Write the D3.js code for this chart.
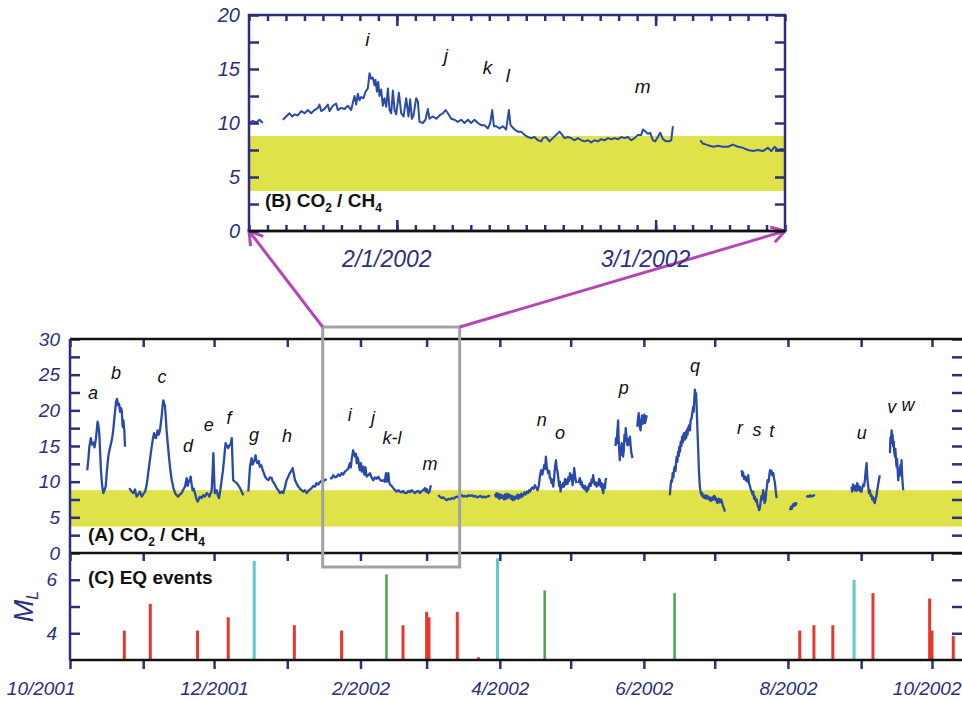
<!DOCTYPE html>
<html lang="en">
<head>
<meta charset="UTF-8">
<title>CO2 / CH4 ratio and EQ events</title>
<script src="https://cdn.jsdelivr.net/npm/d3@7"></script>
<style>
  body{margin:0;background:#fff;}
  svg{display:block;font-family:"Liberation Sans",Arial,sans-serif;}
</style>
</head>
<body>
<script>
// ---- data: [days since 2001-10-01, CO2/CH4] ----
var startDay = new Date(2001, 9, 1);

var segA = [[7.3,11.6],[7.8,13.2],[8.2,14.9],[8.8,16.1],[9.3,15.2],[9.9,15.5],[10.4,14.8],[11.0,16.1],[11.4,17.5],[11.7,18.4],[12.0,17.9],[12.4,16.8],[12.8,13.8],[13.1,11.6],[13.6,9.5],[14.1,8.4],[14.6,8.8],[15.1,9.3],[15.6,11.4],[16.2,13.5],[16.7,14.4],[17.2,15.1],[17.8,16.0],[18.3,17.2],[18.9,19.3],[19.5,21.2],[19.9,21.6],[20.4,20.7],[20.8,20.9],[21.2,19.8],[21.6,20.3],[21.9,20.0],[22.3,17.7],[22.6,18.6],[23.0,17.2],[23.3,14.9]];
var segB = [[25.1,9.1],[25.9,8.7],[26.8,8.4],[27.5,8.9],[28.2,7.9],[28.9,8.2],[29.6,8.6],[30.4,7.9],[31.1,8.3],[31.8,8.6],[32.5,9.6],[33.1,11.2],[33.9,13.2],[34.6,14.9],[35.1,16.0],[35.6,16.8],[36.0,16.2],[36.4,16.1],[36.8,16.7],[37.1,17.2],[37.6,16.6],[38.1,17.2],[38.5,18.3],[38.8,19.1],[39.2,20.6],[39.5,21.4],[39.9,20.9],[40.2,20.7],[40.5,19.3],[40.9,17.2],[41.4,15.3],[41.9,13.5],[42.5,11.6],[43.1,10.2],[43.8,9.1],[44.5,8.4],[45.1,8.1],[45.8,7.9],[46.5,8.2],[47.3,8.4],[48.0,8.9],[48.7,9.3],[49.1,10.0],[49.4,10.5],[49.8,9.4],[50.1,9.8],[50.6,10.2],[51.1,10.7],[51.5,9.6],[51.9,8.8],[52.4,9.0],[52.9,8.4],[53.5,7.6],[54.1,7.2],[54.6,7.6],[55.0,7.9],[55.7,7.7],[56.4,8.1],[57.1,7.9],[57.9,8.4],[58.5,8.2],[59.0,7.9],[59.5,8.3],[60.0,8.8],[60.4,11.5],[60.7,14.0],[61.0,11.0],[61.3,8.4],[61.7,8.6],[62.1,8.8],[62.6,8.1],[63.1,7.7],[63.7,8.9],[64.2,10.2],[64.7,11.4],[65.2,13.0],[65.6,14.5],[65.9,15.4],[66.4,15.0],[67.0,14.7],[67.5,15.1],[68.0,15.2],[68.5,16.1],[68.8,13.0],[69.1,10.2],[69.8,10.0],[70.6,9.8],[71.3,9.5],[72.0,9.1],[72.7,8.6],[73.4,8.1]];
var segC = [[75.5,8.6],[75.9,10.5],[76.2,12.1],[76.6,12.8],[76.9,13.3],[77.3,12.4],[77.6,12.6],[78.1,13.0],[78.6,13.7],[78.9,13.0],[79.3,12.6],[79.9,12.9],[80.4,12.1],[81.0,12.3],[81.6,11.6],[82.1,11.2],[82.6,10.7],[83.3,10.4],[84.0,10.2],[84.7,10.6],[85.4,10.5],[85.9,10.0],[86.4,9.8],[86.9,9.5],[87.5,9.1],[88.2,8.8],[88.9,8.4],[89.6,8.6],[90.3,8.4],[91.0,9.2],[91.7,10.2],[92.4,10.7],[93.1,11.2],[93.7,11.5],[94.3,11.9],[94.8,11.0],[95.3,10.2],[96.0,9.7],[96.7,9.3],[97.4,9.0],[98.1,8.8],[98.8,8.6],[99.5,8.8],[100.2,8.4],[100.9,8.7],[101.6,8.9],[102.3,9.1],[103.0,9.4],[103.7,9.3],[104.4,9.8],[105.1,9.6],[105.8,9.9],[106.5,10.1],[107.2,10.0],[108.0,10.3],[108.7,10.2]];
var segD = [[110.1,10.4],[110.8,10.5],[111.5,10.9],[112.2,10.6],[112.9,10.7],[113.6,11.0],[114.3,10.8],[115.0,11.2],[115.7,11.0],[116.4,11.4],[117.1,11.6],[117.8,11.8],[118.5,12.6],[118.9,12.0],[119.3,13.2],[119.9,14.4],[120.3,14.0],[120.7,13.5],[121.1,13.9],[121.4,12.6],[121.8,13.4],[122.1,13.0],[122.5,12.0],[122.8,11.6],[123.2,12.6],[123.6,11.4],[124.2,12.1],[124.6,11.0],[125.1,12.0],[125.6,10.7],[126.3,10.9],[127.0,11.2],[127.7,10.6],[128.4,10.2],[129.1,10.6],[129.8,10.4],[130.5,10.7],[131.2,10.3],[131.9,10.1],[132.6,10.2],[133.3,10.0],[133.8,11.2],[134.1,10.0],[134.8,11.2],[135.1,10.0],[135.5,9.6],[136.2,9.4],[136.9,9.1],[137.6,8.8],[138.3,8.6],[139.0,8.8],[139.7,8.6],[140.4,8.5],[141.1,8.7],[141.8,8.4],[142.5,8.4],[143.2,8.7],[143.9,8.5],[144.6,8.8],[145.3,8.6],[146.0,8.4],[146.7,8.6],[147.4,8.7],[148.2,8.4],[148.9,8.7],[149.6,8.8],[150.3,9.1],[150.7,8.6],[151.0,9.0],[151.7,8.4],[152.2,8.6],[152.8,9.5]];
var segE = [[155.9,8.1],[156.6,7.9],[157.4,7.7],[158.1,7.8],[158.8,7.6],[159.5,7.4],[160.2,7.6],[160.9,7.5],[161.6,7.7],[162.4,7.6],[163.1,7.8],[163.8,7.9],[164.5,7.8],[165.2,8.0],[165.9,8.1],[166.6,7.9],[167.4,8.0],[168.1,7.9],[168.8,8.1],[169.5,8.0],[170.2,8.1],[170.9,7.9],[171.6,8.0],[172.4,7.8],[173.1,7.9],[173.8,8.0],[174.5,7.8],[175.2,7.9],[175.9,7.8],[176.6,7.9],[177.4,8.0],[177.8,7.9]];
var segF = [[179.9,8.3],[180.3,7.9],[180.6,8.4],[181.0,7.8],[181.4,8.3],[181.8,7.6],[182.2,8.2],[182.6,7.7],[183.0,8.1],[183.4,7.9],[183.8,7.5],[184.2,8.2],[184.6,7.6],[185.0,8.3],[185.4,7.7],[185.8,8.2],[186.3,8.1],[186.7,7.6],[187.1,8.0],[187.5,7.4],[187.9,7.9],[188.3,7.5],[188.7,7.9],[189.1,7.7],[189.5,8.2],[189.9,7.6],[190.3,8.1],[190.7,7.8],[191.1,8.3],[191.5,7.9],[191.9,8.1],[192.4,8.5],[192.9,8.2],[193.4,8.6],[193.9,8.4],[194.4,8.8],[194.8,8.6],[195.3,9.0],[195.8,9.2],[196.3,9.0],[196.9,9.5],[197.5,9.1],[198.0,8.8],[198.5,9.4],[199.0,10.8],[199.5,11.6],[200.0,11.0],[200.4,11.6],[200.9,12.4],[201.2,11.8],[201.5,13.5],[201.9,12.0],[202.2,11.6],[202.5,11.2],[202.9,11.5],[203.2,10.5],[203.5,10.5],[203.9,9.8],[204.2,10.3],[204.6,9.3],[205.0,10.5],[205.4,12.2],[205.8,13.0],[206.1,11.8],[206.4,11.5],[206.7,10.7],[207.1,9.4],[207.4,10.0],[207.7,8.6],[208.1,9.5],[208.4,9.2],[208.8,9.8],[209.2,9.3],[209.6,10.4],[209.9,9.6],[210.3,10.2],[210.7,9.7],[211.0,10.6],[211.4,10.1],[211.7,11.2],[212.1,10.4],[212.4,10.9],[212.8,9.5],[213.1,10.4],[213.5,11.9],[213.9,10.7],[214.2,10.1],[214.5,9.8]];
var segG = [[215.2,9.8],[215.6,10.2],[215.9,10.5],[216.3,9.6],[216.6,10.0],[217.0,9.2],[217.3,9.5],[217.7,9.0],[218.1,9.4],[218.4,8.8],[218.8,8.6],[219.1,9.2],[219.5,8.9],[219.8,9.6],[220.2,9.8],[220.5,9.4],[220.9,10.3],[221.2,9.9],[221.5,10.9],[221.9,10.0],[222.2,9.6],[222.6,9.9],[223.0,9.3],[223.3,9.8],[223.7,9.5],[224.0,10.4],[224.4,10.2],[224.7,9.3],[225.1,9.8],[225.4,8.9],[225.8,8.4],[226.1,9.6],[226.5,9.1],[226.8,10.3],[227.2,10.5]];
var segH = [[231.0,15.0],[231.2,16.1],[231.5,15.4],[231.8,17.2],[232.1,18.6],[232.3,16.0],[232.5,14.8],[232.8,13.0],[233.0,14.2],[233.3,13.8],[233.6,15.4],[233.9,14.6],[234.2,13.5],[234.5,14.4],[234.8,16.6],[235.1,15.8],[235.3,17.5],[235.6,16.4],[235.8,15.5],[236.1,15.1],[236.4,16.0],[236.7,15.2],[237.1,16.3],[237.4,15.0],[237.7,14.0],[238.0,13.6],[238.1,13.3]];
var segI = [[240.2,17.7],[240.5,18.8],[240.8,19.6],[241.0,18.4],[241.3,17.6],[241.6,17.2],[241.9,18.5],[242.2,19.3],[242.5,18.1],[242.9,18.4],[243.2,19.4],[243.5,18.2],[243.9,18.8],[244.2,19.3]];
var segJ = [[254.0,8.1],[254.3,9.4],[254.6,10.2],[254.9,10.0],[255.2,11.2],[255.5,10.6],[255.8,11.8],[256.1,12.1],[256.4,11.5],[256.7,13.0],[256.9,13.5],[257.2,12.8],[257.5,14.2],[257.8,13.6],[258.0,14.9],[258.3,14.2],[258.6,15.6],[258.9,15.0],[259.2,16.3],[259.5,15.5],[259.8,16.6],[260.0,16.8],[260.3,15.9],[260.6,16.9],[260.9,16.1],[261.2,17.3],[261.5,16.6],[261.8,17.6],[262.2,17.9],[262.5,17.2],[262.8,18.6],[263.2,18.9],[263.5,19.6],[263.9,20.5],[264.1,19.8],[264.4,21.8],[264.6,22.9],[264.9,22.0],[265.1,22.4],[265.3,21.0],[265.6,18.0],[266.0,14.4],[266.3,11.6],[266.7,9.3],[267.0,8.6],[267.4,8.1],[267.7,8.4],[268.1,7.8],[268.4,8.0],[268.8,7.7],[269.1,8.1],[269.5,7.6],[269.8,8.0],[270.2,7.9],[270.6,7.5],[270.9,7.8],[271.3,7.3],[271.7,7.4],[272.0,7.8],[272.4,7.5],[272.7,8.0],[273.1,7.9],[273.4,7.4],[273.8,7.6],[274.1,7.0],[274.5,7.2],[274.8,7.6],[275.2,7.1],[275.5,7.5],[275.9,7.4],[276.3,6.8],[276.6,6.5],[277.0,6.2],[277.3,5.8]];
var segK = [[284.4,11.6],[284.7,10.8],[285.0,11.3],[285.4,10.4],[285.8,10.7],[286.1,10.2],[286.5,10.6],[286.8,10.0],[287.2,10.9],[287.5,9.8],[287.9,9.4],[288.2,9.0],[288.6,8.6],[289.0,8.2],[289.3,8.6],[289.7,7.6],[290.0,7.9],[290.4,7.2],[290.8,7.5],[291.1,6.7],[291.5,6.4],[291.8,6.0],[292.1,6.3],[292.5,7.3],[292.8,8.0],[293.1,7.5],[293.5,8.8],[293.8,8.2],[294.1,7.0],[294.5,7.4],[294.8,8.6],[295.1,9.3],[295.4,10.2],[295.8,10.0],[296.1,10.8],[296.4,11.6],[296.8,11.1],[297.1,11.5],[297.4,10.9],[297.8,11.2],[298.1,10.5],[298.5,9.8],[298.8,8.8],[299.2,7.7]];
var segL = [[304.9,6.0],[305.3,6.5],[305.7,6.2],[306.1,6.8],[306.5,6.6],[306.9,7.0],[307.3,6.7],[307.7,7.1]];
var segM = [[311.9,7.8],[312.4,8.0],[312.9,7.9],[313.4,8.1],[313.9,7.9],[314.4,8.0],[314.9,8.1],[315.4,8.0]];
var segN = [[330.9,9.3],[331.2,8.6],[331.6,9.6],[331.9,8.9],[332.3,8.8],[332.6,9.4],[333.0,8.7],[333.3,9.8],[333.7,9.5],[334.0,8.8],[334.4,9.3],[334.8,8.6],[335.2,8.6],[335.5,9.2],[335.9,9.6],[336.2,9.4],[336.6,10.2],[336.9,11.4],[337.3,12.6],[337.6,10.6],[338.0,9.3],[338.3,8.4],[338.7,8.8],[339.0,8.0],[339.4,8.1],[339.7,7.5],[340.1,7.8],[340.4,7.2],[340.8,7.0],[341.1,7.6],[341.5,8.0],[341.8,8.8],[342.2,9.6],[342.5,10.2],[342.9,10.9]];
var segO = [[347.2,14.0],[347.4,16.2],[347.6,15.4],[347.9,17.2],[348.1,16.0],[348.3,16.6],[348.6,14.9],[348.8,15.6],[349.0,14.2],[349.3,13.5],[349.5,14.6],[349.8,12.8],[350.0,12.1],[350.2,13.2],[350.5,11.4],[350.7,10.2],[350.9,11.8],[351.2,10.8],[351.4,11.6],[351.7,12.4],[351.9,11.0],[352.1,13.0],[352.3,11.2],[352.6,9.6],[352.8,8.8]];
var mainSegments = [segA, segB, segC, segD, segE, segF, segG, segH, segI, segJ, segK, segL, segM, segN, segO];

// ---- inset (B): [days since 2002-01-16, CO2/CH4] ----
var zoomStart = new Date(2002, 0, 16);
var zoomEnd = new Date(2002, 2, 15);
var zoomA = [[0.0,10.0],[0.41,10.2],[0.78,10.05],[1.14,10.3],[1.49,10.0]];
var zoomB = [[3.66,10.3],[4.02,10.6],[4.38,10.9],[4.67,10.6],[4.92,10.8],[5.28,10.7],[5.65,11.1],[6.01,10.9],[6.37,11.2],[6.73,10.9],[7.09,11.2],[7.45,11.4],[7.63,11.7],[7.81,11.1],[8.17,11.3],[8.53,11.7],[8.71,11.1],[9.07,11.6],[9.43,11.8],[9.61,11.2],[9.97,11.4],[10.34,11.3],[10.7,11.6],[11.06,11.2],[11.24,11.9],[11.42,12.5],[11.6,11.7],[11.78,12.7],[11.96,12.1],[12.14,12.4],[12.39,12.3],[12.61,12.9],[12.86,13.2],[13.04,14.6],[13.22,14.1],[13.4,14.2],[13.58,13.5],[13.69,14.0],[13.84,12.9],[13.98,13.8],[14.12,12.5],[14.3,13.1],[14.48,11.6],[14.66,12.3],[14.85,11.5],[15.03,13.2],[15.21,11.2],[15.39,10.9],[15.57,13.0],[15.75,11.2],[15.93,10.8],[16.22,12.8],[16.47,10.9],[16.72,10.6],[17.01,12.3],[17.26,10.6],[17.44,12.2],[17.62,10.4],[17.8,10.7],[18.09,12.3],[18.27,12.0],[18.45,10.1],[18.81,10.0],[19.1,10.3],[19.35,11.3],[19.53,10.4],[19.89,10.6],[20.26,10.4],[20.62,10.7],[20.98,10.9],[21.27,11.2],[21.52,10.9],[21.88,10.4],[22.24,10.3],[22.6,10.1],[22.96,10.3],[23.32,10.0],[23.68,10.3],[24.04,10.0],[24.4,10.3],[24.76,10.0],[25.12,9.8],[25.48,9.8],[25.85,9.5],[26.1,10.0],[26.32,11.2],[26.5,9.7],[26.75,9.7],[27.11,9.5],[27.47,9.7],[27.83,9.4],[28.12,11.2],[28.3,9.8],[28.73,9.4],[29.09,9.2],[29.45,9.2],[29.82,8.9],[30.18,8.7],[30.54,8.6],[30.9,8.7],[31.26,8.4],[31.62,8.3],[31.8,8.6],[32.16,8.7],[32.52,8.3],[32.88,8.6],[33.24,8.9],[33.6,9.2],[33.89,8.9],[34.14,8.6],[34.51,8.7],[34.87,8.6],[35.23,8.4],[35.59,8.6],[35.95,8.4],[36.31,8.3],[36.67,8.4],[37.03,8.2],[37.39,8.4],[37.75,8.3],[38.11,8.5],[38.47,8.4],[38.84,8.6],[39.2,8.5],[39.56,8.6],[39.92,8.5],[40.28,8.7],[40.64,8.6],[41.0,8.7],[41.36,8.4],[41.72,8.6],[42.08,8.9],[42.44,8.9],[42.62,9.4],[42.91,9.2],[43.16,9.0],[43.41,9.1],[43.7,8.4],[43.96,8.3],[44.24,8.7],[44.5,9.1],[44.79,8.5],[45.15,8.3],[45.44,8.3],[45.69,8.4],[45.87,9.7]];
var zoomC = [[48.83,8.4],[49.12,8.1],[49.48,8.0],[49.84,7.9],[50.27,7.8],[50.74,7.9],[51.28,7.8],[51.82,7.8],[52.36,8.0],[52.91,7.8],[53.45,7.7],[53.99,7.5],[54.53,7.4],[55.07,7.5],[55.61,7.4],[56.15,7.7],[56.51,7.4],[56.87,7.8],[57.23,7.5],[57.59,7.6],[58.13,7.5],[58.4,7.6]];
var zoomSegments = [zoomA, zoomB, zoomC];

// background range (yellow band)
var bandRange = [3.7, 8.8];

// ---- (C) earthquakes ----
var eqDates = ["2001-10-24","2001-11-04","2001-11-24","2001-12-07","2001-12-18","2002-01-04","2002-01-24","2002-02-12","2002-02-19","2002-03-01","2002-03-02","2002-03-14","2002-03-23","2002-03-31","2002-04-20","2002-06-14","2002-08-06","2002-08-12","2002-08-20","2002-08-29","2002-09-06","2002-09-30","2002-10-01","2002-10-10"];
var eqML    = [4.1,5.1,4.1,4.6,6.7,4.3,4.1,6.2,4.3,4.8,4.6,4.8,3.1,6.8,5.6,5.5,4.1,4.3,4.3,6.0,5.5,5.3,4.1,3.9];
var eqGroup = ["I","I","I","I","II","I","I","III","I","I","I","I","I","II","III","III","I","I","I","II","I","I","I","I"];

// ---- tick values ----
var ratioTicks = [0,2.5,5,7.5,10,12.5,15,17.5,20,22.5,25,27.5,30];
var mlTicks = [4,5,6];
var zoomRatioTicks = [0,2.5,5,7.5,10,12.5,15,17.5,20];

// ---- peak letters ----
var mainLetters   = ['a','b','c','d','e','f','g','h','i','j','k-l','m','n','o','p','q','r','s','t','u','v','w'];
var mainLetterDay = [9.7,19.5,39.0,50.0,58.8,67.3,77.9,91.9,118.5,128.3,136.3,152.4,199.8,207.5,234.5,264.6,283.7,290.9,297.2,335.3,348.0,354.8];
var mainLetterVal = [22.4,25.2,24.7,14.9,17.9,18.9,16.5,16.3,19.3,18.9,16.1,12.5,18.6,16.8,23.1,26.2,17.5,17.2,17.0,16.8,20.5,20.7];
var zoomLetters   = ['i','j','k','l','m'];
var zoomLetterDay = [12.8,21.3,25.8,28.0,42.6];
var zoomLetterVal = [17.7,16.2,15.1,14.4,13.3];

window.addEventListener('load', function(){

  var navy = '#2d2f7e';
  var blue = '#2a4aaa';
  var yellow = '#e0e24a';
  var magenta = '#b447b4';
  var eqColor = d3.scaleOrdinal().domain(['I','II','III']).range(['#e8372c','#5fc8cc','#3ea84b']);

  function dayDate(base, d){ return new Date(base.getTime() + d * 864e5); }
  var parse = d3.timeParse('%Y-%m-%d');

  var svg = d3.select('body').append('svg')
    .attr('width', 962)
    .attr('height', 701);

  // scales
  var xMain = d3.scaleTime().domain([startDay, new Date(2002, 9, 1)]).range([70, 932]);
  var mainRight = 962;
  var yA = d3.scaleLinear().domain([0, 30]).range([553, 339]);
  var yC = d3.scaleLinear().domain([3, 7]).range([660, 553]);
  var xZ = d3.scaleTime().domain([zoomStart, zoomEnd]).range([249, 785]);
  var yZ = d3.scaleLinear().domain([0, 20]).range([231, 15]);

  var defs = svg.append('defs');
  defs.append('clipPath').attr('id', 'clipA').append('rect')
    .attr('x', 70).attr('y', yA(30)).attr('width', mainRight - 70).attr('height', yA(0) - yA(30));
  defs.append('clipPath').attr('id', 'clipZ').append('rect')
    .attr('x', xZ.range()[0]).attr('y', yZ(20)).attr('width', xZ.range()[1] - xZ.range()[0]).attr('height', yZ(0) - yZ(20));
  defs.append('marker')
    .attr('id', 'head').attr('markerUnits', 'userSpaceOnUse')
    .attr('markerWidth', 30).attr('markerHeight', 30)
    .attr('refX', 15).attr('refY', 15).attr('orient', 'auto')
    .append('path')
    .attr('d', 'M2,7 L15,15 L2,23')
    .attr('fill', 'none').attr('stroke', magenta).attr('stroke-width', 3);

  function styleAxis(g, size){
    g.attr('font-size', null).attr('font-family', null);
    g.select('.domain').remove();
    g.selectAll('.tick line').attr('stroke', navy).attr('stroke-width', 2.5);
    g.selectAll('.tick text')
      .attr('fill', navy)
      .style('font-style', 'italic')
      .style('font-size', size + 'px');
  }

  // ================= main panel (A) =================
  svg.append('rect')
    .attr('x', 70).attr('y', yA(bandRange[1]))
    .attr('width', mainRight - 70).attr('height', yA(bandRange[0]) - yA(bandRange[1]))
    .attr('fill', yellow);

  var lineA = d3.line()
    .x(function(d){ return xMain(dayDate(startDay, d[0])); })
    .y(function(d){ return yA(d[1]); });

  svg.append('g').attr('clip-path', 'url(#clipA)')
    .selectAll('path')
    .data(mainSegments)
    .enter()
    .append('path')
    .attr('d', lineA)
    .attr('fill', 'none')
    .attr('stroke', blue)
    .attr('stroke-width', 2.3)
    .attr('stroke-linejoin', 'round');

  // ================= EQ panel (C) =================
  svg.append('g').selectAll('line')
    .data(eqDates)
    .enter()
    .append('line')
    .attr('x1', function(d){ return xMain(parse(d)); })
    .attr('x2', function(d){ return xMain(parse(d)); })
    .attr('y1', yC(3))
    .attr('y2', function(d, i){ return yC(eqML[i]); })
    .attr('stroke', function(d, i){ return eqColor(eqGroup[i]); })
    .attr('stroke-width', function(d, i){ return eqGroup[i] === 'III' ? 2.5 : 3; });

  // ================= axes of main figure =================
  var monthTicks = d3.timeMonth.range(startDay, new Date(2002, 9, 2));

  var topAx = svg.append('g').attr('transform', 'translate(0,' + yA(30) + ')')
    .call(d3.axisBottom(xMain).tickValues(monthTicks).tickSize(8).tickFormat(''));
  styleAxis(topAx, 19);
  var midAx = svg.append('g').attr('transform', 'translate(0,' + yA(0) + ')')
    .call(d3.axisBottom(xMain).tickValues(monthTicks).tickSize(8).tickFormat(''));
  styleAxis(midAx, 19);
  var botAx = svg.append('g').attr('transform', 'translate(0,' + yC(3) + ')')
    .call(d3.axisBottom(xMain).tickValues(monthTicks).tickSize(9).tickPadding(13)
      .tickFormat(function(d){ return d.getMonth() % 2 === 1 ? (d.getMonth() + 1) + '/' + d.getFullYear() : ''; }));
  styleAxis(botAx, 19);
  var nTicks = monthTicks.length;
  botAx.selectAll('.tick text')
    .filter(function(d, i){ return i === 0; })
    .attr('text-anchor', 'end').attr('dx', 5);
  botAx.selectAll('.tick text')
    .filter(function(d, i){ return i === nTicks - 1; })
    .attr('text-anchor', 'end').attr('dx', mainRight - 1 - xMain(monthTicks[nTicks - 1]));

  var leftA = svg.append('g').attr('transform', 'translate(70,0)')
    .call(d3.axisLeft(yA).tickValues(ratioTicks).tickSizeInner(-10).tickSizeOuter(0).tickPadding(10)
      .tickFormat(function(d){ return d % 5 === 0 ? d : ''; }));
  styleAxis(leftA, 19);
  var rightA = svg.append('g').attr('transform', 'translate(' + mainRight + ',0)')
    .call(d3.axisRight(yA).tickValues(ratioTicks).tickSizeInner(-10).tickSizeOuter(0).tickFormat(''));
  styleAxis(rightA, 19);
  var leftC = svg.append('g').attr('transform', 'translate(70,0)')
    .call(d3.axisLeft(yC).tickValues(mlTicks).tickSizeInner(-10).tickSizeOuter(0).tickPadding(13)
      .tickFormat(function(d){ return d % 2 === 0 ? d : ''; }));
  styleAxis(leftC, 19);
  var rightC = svg.append('g').attr('transform', 'translate(' + mainRight + ',0)')
    .call(d3.axisRight(yC).tickValues(mlTicks).tickSizeInner(-10).tickSizeOuter(0).tickFormat(''));
  styleAxis(rightC, 19);

  // frame lines
  [yA(30), yA(0), yC(3)].forEach(function(y){
    svg.append('line')
      .attr('x1', 70).attr('x2', mainRight).attr('y1', y).attr('y2', y)
      .attr('stroke', '#111').attr('stroke-width', 2.5);
  });
  svg.append('line')
    .attr('x1', 70).attr('x2', 70).attr('y1', yA(30)).attr('y2', yC(3))
    .attr('stroke', navy).attr('stroke-width', 2.5);

  // peak letters
  svg.append('g').selectAll('text')
    .data(mainLetters)
    .enter()
    .append('text')
    .attr('x', function(d, i){ return xMain(dayDate(startDay, mainLetterDay[i])); })
    .attr('y', function(d, i){ return yA(mainLetterVal[i]); })
    .attr('dy', '0.32em')
    .attr('text-anchor', 'middle')
    .style('font-style', 'italic')
    .style('font-size', '18px')
    .attr('fill', '#111')
    .text(function(d){ return d; });

  function chemLabel(x, y, tag){
    var t = svg.append('text')
      .attr('x', x).attr('y', y)
      .attr('fill', '#111')
      .style('font-weight', 'bold')
      .style('font-size', '19px');
    t.append('tspan').text(tag + ' CO');
    t.append('tspan').attr('dy', 5).style('font-size', '12px').text('2');
    t.append('tspan').attr('dy', -5).text(' / CH');
    t.append('tspan').attr('dy', 5).style('font-size', '12px').text('4');
  }
  chemLabel(88, 541, '(A)');

  svg.append('text')
    .attr('x', 88).attr('y', 584)
    .attr('fill', '#111')
    .style('font-weight', 'bold')
    .style('font-size', '19px')
    .text('(C) EQ events');

  var ml = svg.append('text')
    .attr('transform', 'translate(33,' + yC(5) + ') rotate(-90)')
    .attr('text-anchor', 'middle')
    .attr('fill', navy)
    .style('font-style', 'italic')
    .style('font-size', '27px');
  ml.append('tspan').text('M');
  ml.append('tspan').attr('dy', 5).style('font-size', '16px').text('L');

  // ================= zoom box and arrows =================
  var bx0 = xMain(zoomStart), bx1 = xMain(zoomEnd);
  svg.append('rect')
    .attr('x', bx0).attr('y', 327)
    .attr('width', bx1 - bx0).attr('height', 567 - 327)
    .attr('fill', 'none')
    .attr('stroke', '#a2a2a2')
    .attr('stroke-width', 3);

  [[bx0, xZ.range()[0]], [bx1, xZ.range()[1]]].forEach(function(p){
    svg.append('line')
      .attr('x1', p[0]).attr('y1', 327)
      .attr('x2', p[1]).attr('y2', yZ(0))
      .attr('stroke', magenta)
      .attr('stroke-width', 3)
      .attr('marker-end', 'url(#head)');
  });

  // ================= inset (B) =================
  svg.append('rect')
    .attr('x', xZ.range()[0]).attr('y', yZ(bandRange[1]))
    .attr('width', xZ.range()[1] - xZ.range()[0]).attr('height', yZ(bandRange[0]) - yZ(bandRange[1]))
    .attr('fill', yellow);

  var lineZ = d3.line()
    .x(function(d){ return xZ(dayDate(zoomStart, d[0])); })
    .y(function(d){ return yZ(d[1]); });

  svg.append('g').attr('clip-path', 'url(#clipZ)')
    .selectAll('path')
    .data(zoomSegments)
    .enter()
    .append('path')
    .attr('d', lineZ)
    .attr('fill', 'none')
    .attr('stroke', blue)
    .attr('stroke-width', 2)
    .attr('stroke-linejoin', 'round');

  var dayTicks = d3.range(0, 59, 2).map(function(d){ return dayDate(zoomStart, d); });
  var monthMarks = [new Date(2002, 1, 1), new Date(2002, 2, 1)];

  var zBot = svg.append('g').attr('transform', 'translate(0,' + yZ(0) + ')')
    .call(d3.axisTop(xZ).tickValues(dayTicks).tickSize(6).tickFormat(''));
  styleAxis(zBot, 20);
  var zBot2 = svg.append('g').attr('transform', 'translate(0,' + yZ(0) + ')')
    .call(d3.axisTop(xZ).tickValues(monthMarks).tickSize(11).tickFormat(''));
  styleAxis(zBot2, 20);
  var zTop = svg.append('g').attr('transform', 'translate(0,' + yZ(20) + ')')
    .call(d3.axisBottom(xZ).tickValues(dayTicks).tickSize(6).tickFormat(''));
  styleAxis(zTop, 20);
  var zTop2 = svg.append('g').attr('transform', 'translate(0,' + yZ(20) + ')')
    .call(d3.axisBottom(xZ).tickValues(monthMarks).tickSize(11).tickFormat(''));
  styleAxis(zTop2, 20);
  var zLeft = svg.append('g').attr('transform', 'translate(' + xZ.range()[0] + ',0)')
    .call(d3.axisLeft(yZ).tickValues(zoomRatioTicks).tickSizeInner(-10).tickSizeOuter(0).tickPadding(9)
      .tickFormat(function(d){ return d % 5 === 0 ? d : ''; }));
  styleAxis(zLeft, 20);
  var zRight = svg.append('g').attr('transform', 'translate(' + xZ.range()[1] + ',0)')
    .call(d3.axisRight(yZ).tickValues(zoomRatioTicks).tickSizeInner(-10).tickSizeOuter(0).tickFormat(''));
  styleAxis(zRight, 20);

  svg.append('rect')
    .attr('x', xZ.range()[0]).attr('y', yZ(20))
    .attr('width', xZ.range()[1] - xZ.range()[0]).attr('height', yZ(0) - yZ(20))
    .attr('fill', 'none')
    .attr('stroke', navy)
    .attr('stroke-width', 2.5);
  svg.append('line')
    .attr('x1', xZ.range()[0]).attr('x2', xZ.range()[1]).attr('y1', yZ(0)).attr('y2', yZ(0))
    .attr('stroke', '#111').attr('stroke-width', 2.5);

  var fmtZ = d3.timeFormat('%-m/%-d/%Y');
  svg.append('g').selectAll('text')
    .data(monthMarks)
    .enter()
    .append('text')
    .attr('x', function(d){ return xZ(d) - 10; })
    .attr('y', 267)
    .attr('text-anchor', 'middle')
    .attr('fill', navy)
    .style('font-style', 'italic')
    .style('font-size', '23px')
    .text(function(d){ return fmtZ(d); });

  svg.append('g').selectAll('text')
    .data(zoomLetters)
    .enter()
    .append('text')
    .attr('x', function(d, i){ return xZ(dayDate(zoomStart, zoomLetterDay[i])); })
    .attr('y', function(d, i){ return yZ(zoomLetterVal[i]); })
    .attr('dy', '0.32em')
    .attr('text-anchor', 'middle')
    .style('font-style', 'italic')
    .style('font-size', '19px')
    .attr('fill', '#111')
    .text(function(d){ return d; });

  chemLabel(265, 207, '(B)');

}, false);
</script>
</body>
</html>
